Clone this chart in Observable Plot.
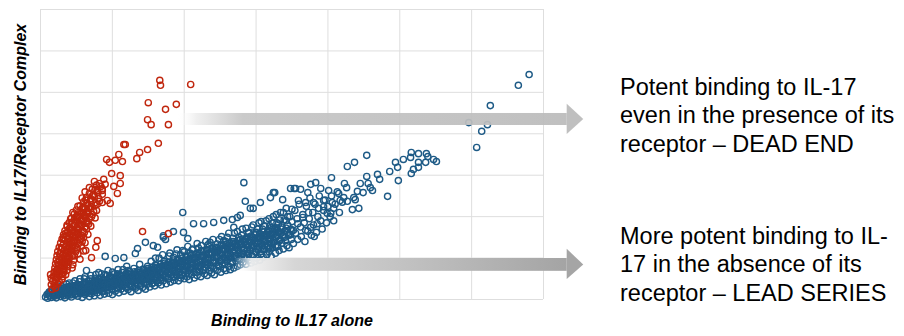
<!DOCTYPE html>
<html><head><meta charset="utf-8">
<script src="https://cdn.jsdelivr.net/npm/d3@7"></script>
<script src="https://cdn.jsdelivr.net/npm/@observablehq/plot@0.6"></script>
<style>
body{margin:0;background:#fff;}
#wrap{position:relative;width:904px;height:336px;overflow:hidden;font-family:"Liberation Sans",Arial,sans-serif;background:#fff;}
#wrap svg{position:absolute;left:0;top:0;}
.note{position:absolute;left:620px;font-size:23.5px;line-height:28.5px;color:#000;white-space:nowrap;font-family:"Liberation Sans",Arial,sans-serif;}
</style></head><body><div id="wrap"></div>
<script>
// ---- data (arbitrary units) ----
const gridTicks = [0,1,2,3,4,5,6,7];
const xLabel = "Binding to IL17 alone";
const yLabel = "Binding to IL17/Receptor Complex";
const notes = [
  ["Potent binding to IL-17", "even in the presence of its", "receptor \u2013 DEAD END"],
  ["More potent binding to IL-", "17 in the absence of its", "receptor \u2013 LEAD SERIES"]
];

const blueCore = [
[0.07,0.06],[0.09,0.12],[0.1,0.03],[0.12,0.18],[0.13,0.09],[0.15,0.05],[0.16,0.24],[0.17,0.14],[0.19,0.08],[0.2,0.2],[0.21,0.3],[0.22,0.04],[0.24,0.12],[0.25,0.26],[0.26,0.17],[0.28,0.07],[0.29,0.33],[0.3,0.22],[0.31,0.13],[0.33,0.28],[0.34,0.04],[0.35,0.18],[0.36,0.37],[0.38,0.1],[0.39,0.25],[0.4,0.31],[0.41,0.15],[0.43,0.06],[0.44,0.21],[0.45,0.4],[0.46,0.28],[0.48,0.12],[0.49,0.34],[0.5,0.19],
[0.52,0.08],[0.53,0.26],[0.54,0.43],[0.56,0.15],[0.57,0.31],[0.58,0.05],[0.59,0.22],[0.6,0.38],[0.61,0.5],[0.62,0.12],[0.63,0.27],[0.65,0.19],[0.66,0.34],[0.67,0.45],[0.68,0.07],[0.69,0.24],[0.7,0.58],[0.71,0.14],[0.72,0.31],[0.73,0.4],[0.74,0.2],[0.75,0.09],[0.76,0.5],[0.77,0.27],[0.78,0.36],[0.79,0.16],[0.8,0.44],[0.81,0.65],[0.82,0.23],[0.83,0.1],[0.84,0.33],[0.85,0.52],[0.86,0.19],[0.87,0.41],[0.88,0.28],[0.89,0.13],[0.9,0.6],[0.91,0.36],[0.92,0.22],[0.93,0.47],[0.94,0.7],[0.95,0.15],[0.96,0.3],[0.97,0.55],[0.98,0.4],[0.99,0.25],[1.0,0.12],
[1.01,0.45],[1.02,0.33],[1.03,0.62],[1.04,0.2],[1.05,0.5],[1.06,0.28],[1.07,0.39],[1.08,0.72],[1.09,0.16],[1.1,0.56],[1.11,0.44],[1.12,0.25],[1.13,0.34],[1.14,0.65],[1.15,0.5],[1.16,0.2],[1.17,0.41],[1.18,0.3],[1.19,0.58],[1.2,0.8],[1.21,0.47],[1.22,0.24],[1.23,0.36],[1.24,0.68],[1.25,0.53],[1.26,0.19],[1.27,0.43],[1.28,0.31],[1.29,0.6],[1.3,0.75],[1.31,0.49],[1.32,0.27],[1.33,0.38],[1.34,0.66],[1.35,0.55],[1.36,0.22],[1.37,0.45],[1.38,0.85],[1.39,0.33],[1.4,0.62],[1.41,0.51],[1.42,0.29],[1.43,0.72],[1.44,0.4],[1.45,0.58],[1.46,0.25],[1.47,0.48],[1.48,0.36],[1.49,0.8],[1.5,0.66],
[1.51,0.43],[1.52,0.3],[1.53,0.56],[1.54,0.92],[1.55,0.38],[1.56,0.7],[1.57,0.5],[1.58,0.62],[1.59,0.33],[1.6,0.84],[1.61,0.46],[1.62,0.75],[1.63,0.58],[1.64,0.4],[1.65,1.0],[1.66,0.66],[1.67,0.52],[1.68,0.35],[1.69,0.8],[1.7,0.6],[1.71,0.45],[1.72,0.92],[1.73,0.7],[1.74,0.55],[1.75,0.38],[1.76,0.85],[1.77,0.64],[1.78,0.5],[1.79,1.05],[1.8,0.76],[1.81,0.42],[1.82,0.6],[1.83,0.9],[1.84,0.7],[1.85,0.53],[1.86,0.46],[1.87,0.82],[1.88,0.64],[1.89,1.1],[1.9,0.57],[1.91,0.74],[1.92,0.45],[1.93,0.95],[1.94,0.66],[1.95,0.52],[1.96,0.84],[1.97,0.6],[1.98,1.18],[1.99,0.72],[2.0,0.5],
[2.01,0.9],[2.02,0.62],[2.03,0.8],[2.04,0.55],[2.05,1.05],[2.06,0.7],[2.07,0.48],[2.08,0.95],[2.09,0.78],[2.1,0.6],[2.11,1.2],[2.12,0.86],[2.13,0.66],[2.14,0.52],[2.15,1.0],[2.16,0.74],[2.17,0.9],[2.18,0.58],[2.19,1.12],[2.2,0.8],[2.21,0.68],[2.22,0.96],[2.23,0.55],[2.24,1.3],[2.25,0.85],[2.26,0.72],[2.27,1.05],[2.28,0.62],[2.29,0.92],[2.3,0.78],[2.31,1.2],[2.32,0.58],[2.33,0.88],[2.34,1.0],[2.35,0.7],[2.36,1.38],[2.37,0.82],[2.38,0.64],[2.39,1.1],[2.4,0.94],[2.41,0.75],[2.42,0.6],[2.43,1.25],[2.44,0.88],[2.45,1.02],[2.46,0.7],[2.47,1.15],[2.48,0.8],[2.49,1.45],[2.5,0.95],
[2.51,0.66],[2.52,1.1],[2.53,0.84],[2.54,1.3],[2.55,0.74],[2.56,1.0],[2.57,1.2],[2.58,0.7],[2.59,0.92],[2.6,1.5],[2.61,1.08],[2.62,0.8],[2.63,1.25],[2.64,0.72],[2.65,1.0],[2.66,1.4],[2.67,0.88],[2.68,1.15],[2.69,0.76],[2.7,1.6],[2.71,1.05],[2.72,0.93],[2.73,1.3],[2.74,0.8],[2.75,1.18],[2.76,1.5],[2.77,0.98],[2.78,0.84],[2.79,1.35],[2.8,1.1],[2.81,1.7],[2.82,0.9],[2.83,1.22],[2.84,1.02],[2.85,1.45],[2.86,0.85],[2.87,1.3],[2.88,1.12],[2.89,1.6],[2.9,0.95],[2.91,1.38],[2.92,1.2],[2.93,0.88],[2.94,1.75],[2.95,1.05],[2.96,1.5],[2.97,1.28],[2.98,0.92],[2.99,1.15],[3.0,1.62],
[3.01,1.0],[3.02,1.35],[3.03,1.2],[3.04,1.85],[3.05,0.95],[3.06,1.48],[3.07,1.1],[3.08,1.3],[3.09,1.7],[3.1,1.02],[3.11,1.55],[3.12,1.22],[3.13,1.4],[3.14,1.9],[3.15,1.08],[3.16,1.62],[3.17,1.3],[3.18,1.15],[3.19,1.78],[3.2,1.45],[3.21,1.05],[3.22,1.58],[3.23,1.25],[3.24,2.0],[3.25,1.38],[3.26,1.7],[3.27,1.12],[3.28,1.5],[3.29,1.85],[3.3,1.3],[3.31,1.62],[3.32,1.18],[3.33,1.45],[3.34,2.1],[3.35,1.75],[3.36,1.35],[3.37,1.55],[3.38,1.22],[3.39,1.92],[3.4,1.65],[3.41,1.42],[3.42,2.2],[3.43,1.3],[3.44,1.8],[3.45,1.55],[3.46,1.25],[3.47,2.0],[3.48,1.7],[3.49,1.45],[3.5,1.88],
[3.52,1.35],[3.54,2.15],[3.55,1.6],[3.57,1.95],[3.58,1.45],[3.6,2.3],[3.62,1.75],[3.63,1.52],[3.65,2.05],[3.67,1.85],[3.68,1.4],[3.7,2.25],[3.72,1.65],[3.74,1.95],[3.75,2.45],[3.77,1.55],[3.79,2.1],[3.8,1.8],[3.82,2.3],[3.84,1.62],[3.86,2.0],[3.88,2.5],[3.9,1.9],[3.92,1.7],[3.94,2.15],[3.96,2.4],[3.98,1.85],[4.0,2.25],[4.03,2.0],[4.05,2.5],[4.08,1.9],[4.1,2.3],[4.13,2.6],[4.16,2.1],[4.2,2.35]
];

const blueCenter = [
[0.32,0.2],[0.37,0.14],[0.42,0.26],[0.47,0.2],[0.51,0.3],[0.55,0.22],[0.58,0.32],[0.62,0.25],[0.64,0.36],[0.68,0.3],[0.71,0.38],[0.74,0.29],[0.77,0.42],[0.8,0.33],[0.83,0.44],[0.86,0.36],[0.89,0.47],[0.92,0.38],[0.95,0.5],[0.98,0.42],[1.01,0.53],[1.04,0.44],[1.07,0.55],[1.1,0.47],[1.13,0.58],[1.16,0.5],[1.19,0.62],[1.22,0.54],[1.25,0.64],[1.28,0.56],[1.31,0.67],[1.34,0.58],[1.37,0.7],[1.4,0.61],[1.43,0.73],[1.46,0.64],[1.49,0.75],[1.52,0.67],[1.55,0.78],[1.58,0.7],[1.61,0.82],[1.64,0.73],[1.67,0.85],[1.7,0.76],[1.73,0.88],[1.76,0.79],[1.79,0.9],[1.82,0.82],[1.85,0.93],[1.88,0.85],[1.91,0.97],[1.94,0.88],[1.97,1.0],[2.0,0.91],[2.03,1.03],[2.06,0.94],[2.09,1.06],[2.12,0.98],[2.15,1.1],[2.18,1.01],[2.21,1.13],[2.24,1.04],[2.27,1.16],[2.3,1.08],[2.33,1.2],[2.36,1.11],[2.39,1.23],[2.42,1.14],[2.45,1.26],[2.48,1.18],[2.51,1.3],[2.54,1.2],[2.57,1.33],[2.6,1.24],[2.63,1.36],[2.66,1.27],[2.69,1.4],[2.72,1.3],[2.75,1.43],[2.78,1.33],[2.81,1.46],[2.84,1.37],[2.87,1.5],[2.9,1.4],[2.93,1.53],[2.96,1.43],[2.99,1.56],[3.02,1.47],[3.05,1.6],[3.08,1.5],[3.11,1.63],[3.14,1.54],[3.17,1.67],[3.2,1.58],[3.23,1.7],[3.26,1.6],[3.29,1.73],[3.32,1.64],
[0.6,0.16],[0.7,0.2],[0.8,0.25],[0.9,0.28],[1.0,0.32],[1.1,0.36],[1.2,0.4],[1.3,0.44],[1.4,0.48],[1.5,0.52],[1.6,0.56],[1.7,0.6],[1.8,0.65],[1.9,0.68],[2.0,0.72],[2.1,0.76],[2.2,0.8],[2.3,0.85],[2.4,0.88],[2.5,0.92],[2.6,0.96],[2.7,1.0],[2.8,1.05],[2.9,1.1],[3.0,1.15],[3.1,1.2],[3.2,1.25],[3.3,1.28]
];

const blueFill = [
[0.11,0.14],[0.14,0.2],[0.18,0.11],[0.2,0.15],[0.23,0.22],[0.27,0.12],[0.28,0.27],[0.32,0.09],[0.34,0.24],[0.37,0.3],[0.4,0.2],[0.42,0.11],[0.44,0.33],[0.47,0.26],[0.5,0.14],[0.52,0.36],[0.55,0.3],[0.57,0.18],[0.6,0.27],[0.62,0.42],[0.64,0.2],[0.67,0.33],[0.69,0.15],[0.72,0.44],[0.74,0.36],[0.76,0.22],[0.79,0.3],[0.81,0.5],[0.84,0.26],[0.86,0.45],[0.88,0.2],[0.91,0.42],[0.93,0.3],[0.96,0.56],[0.98,0.35],[1.0,0.24],[1.03,0.48],[1.05,0.38],[1.08,0.28],[1.1,0.6],[1.12,0.42],[1.15,0.33],[1.18,0.52],[1.2,0.28],[1.22,0.62],[1.25,0.44],[1.27,0.35],[1.3,0.56],[1.32,0.32],[1.35,0.46],[1.37,0.64],[1.4,0.38],[1.42,0.55],[1.45,0.7],[1.47,0.42],[1.5,0.58],[1.52,0.48],[1.55,0.72],[1.57,0.4],[1.6,0.64],[1.62,0.52],[1.65,0.78],[1.67,0.46],[1.7,0.68],[1.72,0.55],[1.75,0.82],[1.77,0.5],[1.8,0.72],[1.82,0.6],[1.85,0.86],[1.87,0.55],[1.9,0.78],[1.92,0.64],[1.95,0.92],[1.97,0.58],[2.0,0.82],[2.02,0.7],[2.05,0.96],[2.07,0.62],[2.1,0.88],[2.12,0.74],[2.15,1.02],[2.17,0.66],[2.2,0.92],[2.22,0.78],[2.25,1.06],[2.27,0.7],[2.3,0.98],[2.32,0.84],[2.35,1.12],[2.37,0.76],[2.4,1.02],[2.42,0.9],[2.45,1.18],[2.47,0.82],[2.5,1.08],[2.52,0.96],[2.55,1.24],[2.57,0.86],[2.6,1.14],[2.62,1.0],[2.65,1.3],[2.67,0.92],[2.7,1.2],[2.72,1.06],[2.75,1.34],[2.77,0.96],[2.8,1.26],[2.82,1.12],[2.85,1.4],[2.87,1.02],[2.9,1.3],[2.92,1.18],[2.95,1.46],[2.97,1.08],[3.0,1.36],[3.02,1.24],[3.05,1.52],[3.07,1.16],[3.1,1.42],[3.12,1.3],[3.15,1.58],[3.17,1.22],[3.2,1.48],[3.22,1.36],[3.25,1.64],[3.27,1.28],[3.3,1.54],[3.33,1.42],[3.36,1.7],[3.4,1.5],[3.44,1.62],[3.48,1.56]
];

const blueFill2 = [
[0.21,0.1],[0.26,0.21],[0.31,0.16],[0.35,0.27],[0.39,0.19],[0.43,0.3],[0.46,0.16],[0.51,0.24],[0.54,0.34],[0.58,0.26],[0.61,0.19],[0.63,0.37],[0.66,0.27],[0.7,0.35],[0.73,0.24],[0.75,0.43],[0.78,0.32],[0.82,0.4],[0.85,0.3],[0.87,0.49],[0.9,0.37],[0.94,0.45],[0.97,0.34],[0.99,0.52],[1.02,0.41],[1.06,0.5],[1.09,0.38],[1.11,0.57],[1.14,0.45],[1.17,0.54],[1.21,0.42],[1.23,0.6],[1.26,0.49],[1.29,0.59],[1.33,0.47],[1.36,0.66],[1.38,0.54],[1.41,0.64],[1.44,0.52],[1.48,0.71],[1.51,0.6],[1.54,0.69],[1.56,0.58],[1.59,0.77],[1.63,0.65],[1.66,0.74],[1.68,0.62],[1.71,0.82],[1.74,0.7],[1.78,0.8],[1.81,0.67],[1.83,0.88],[1.86,0.76],[1.89,0.86],[1.93,0.72],[1.96,0.94],[1.98,0.8],[2.01,0.92],[2.04,0.78],[2.08,1.0],[2.11,0.85],[2.13,0.97],[2.16,0.84],[2.19,1.06],[2.23,0.9],[2.26,1.02],[2.28,0.88],[2.31,1.1],[2.34,0.96],[2.38,1.08],[2.41,0.94],[2.44,1.16],[2.46,1.01],[2.49,1.13],[2.53,1.0],[2.56,1.22],[2.59,1.06],[2.61,1.19],[2.64,1.06],[2.68,1.28],[2.71,1.12],[2.73,1.25],[2.76,1.12],[2.79,1.36],[2.83,1.18],[2.86,1.32],[2.88,1.2],[2.91,1.44],[2.94,1.26],[2.98,1.38],[3.01,1.28],[3.04,1.5],[3.06,1.34],[3.09,1.46],[3.13,1.34],[3.16,1.56],[3.19,1.4],[3.21,1.54],[3.24,1.44],[3.28,1.66],[3.31,1.48],[3.35,1.6],[3.38,1.52],[3.42,1.72],[3.46,1.58],[3.5,1.66],
[0.55,0.5],[0.62,0.55],[0.7,0.5],[0.77,0.6],[0.85,0.62],[0.92,0.58],[1.0,0.66],[1.07,0.62],[1.15,0.72],[1.22,0.7],[0.48,0.45],[0.4,0.4]
];

const blueUpper = [
[1.6,1.0],[1.7,1.08],[1.8,1.12],[1.9,1.2],[2.0,1.15],[2.05,1.28],[2.12,1.22],[2.18,1.35],[2.24,1.18],[2.3,1.4],[2.35,1.28],[2.4,1.45],[2.46,1.34],[2.52,1.52],[2.58,1.4],[2.62,1.6],[2.68,1.48],[2.74,1.64],[2.8,1.55],[2.86,1.72],[2.9,1.62],[2.96,1.8],[3.02,1.7],[3.07,1.88],[3.12,1.78],[3.18,1.95],[3.23,1.84],[3.28,2.05],[3.33,1.92],[3.38,2.1],[3.44,2.0],[3.5,2.18],
[1.85,1.02],[1.95,1.08],[2.08,1.12],[2.2,1.24],[2.33,1.32],[2.44,1.24],[2.55,1.42],[2.66,1.36],[2.78,1.45],[2.88,1.5],[2.99,1.58],[3.1,1.64],[3.21,1.74],[3.31,1.82],[3.42,1.9]
];

const blueSpread = [
[5.16,3.55],[5.26,3.52],[5.37,3.52],[5.39,3.45],[5.47,3.38],[5.51,3.33],[5.36,3.31],[5.26,3.31],[5.15,3.43],[5.05,3.38],[4.94,3.31],[4.97,3.19],[4.86,3.09],[5.19,3.14],[5.16,3.04],[5.26,3.19],[4.98,2.87],[4.83,2.49],[4.69,3.02],[4.72,2.90],[4.54,3.48],[4.37,3.31],[4.27,3.21],[4.54,2.97],[4.56,2.80],[4.62,2.63],[4.49,2.58],[4.41,2.61],[4.36,2.46],[4.43,2.20],[4.34,2.17],[4.26,2.70],[4.23,2.80],[4.05,2.94],[4.01,2.63],[3.90,2.68],[3.83,2.82],[3.76,2.78],[3.72,2.58],[3.62,2.66],[3.53,2.68],[3.59,2.39],[3.69,2.34],[3.80,2.34],[3.94,2.39],[4.06,2.34],[4.17,2.39],[4.27,2.37],[4.38,2.41],[4.08,2.20],[3.99,2.08],[4.04,2.08],[3.85,1.83],[3.69,1.67],[3.81,1.52],[3.76,1.74],[3.58,1.83],[3.52,1.67],[3.65,1.98],[3.73,2.10],[3.87,2.20],[3.94,2.24],[4.45,2.80],[4.59,2.70],[4.15,2.56],[4.22,2.46]
];

const blueOutliers = [
[0.64,0.7],[0.9,1.04],[1.04,0.99],[1.16,1.01],[1.32,1.11],[1.46,1.38],[1.35,1.23],[1.63,1.26],[1.71,1.5],[1.74,1.45],[1.57,1.3],[1.85,1.64],[1.71,1.54],[1.99,1.62],[2.05,1.47],[1.98,2.1],[2.13,1.83],[2.27,1.83],[2.41,1.86],[2.55,1.91],[2.67,1.93],[2.74,1.98],[2.78,2.03],[2.69,1.74],[2.85,2.37],[2.96,2.2],[2.92,2.2],[3.06,2.34],[3.2,2.46],[3.26,2.58],[3.37,2.41],[3.48,2.68],[3.55,2.68],[3.24,2.58],[2.83,2.82],
[5.96,4.27],[6.07,3.67],[6.14,4.06],[6.22,4.22],[6.26,4.68],[6.65,5.17],[6.80,5.43]
];

const redCore = [
[0.16,0.25],[0.21,0.28],[0.15,0.36],[0.19,0.33],[0.24,0.38],[0.17,0.44],[0.21,0.47],[0.26,0.43],[0.3,0.49],[0.18,0.56],[0.22,0.53],[0.26,0.58],[0.31,0.55],[0.35,0.6],[0.19,0.66],[0.23,0.63],[0.27,0.68],[0.32,0.65],[0.37,0.7],[0.2,0.76],[0.24,0.73],[0.28,0.78],[0.33,0.74],[0.38,0.79],[0.44,0.76],[0.21,0.86],[0.25,0.83],[0.29,0.88],[0.34,0.85],[0.39,0.9],[0.45,0.84],[0.22,0.96],[0.26,0.93],[0.3,0.98],[0.35,0.94],[0.4,0.99],[0.46,0.95],[0.55,0.97],[0.23,1.06],[0.27,1.03],[0.31,1.08],[0.36,1.04],[0.41,1.09],[0.47,1.05],[0.52,1.1],[0.24,1.16],[0.28,1.13],[0.33,1.18],[0.38,1.14],[0.43,1.19],[0.49,1.15],[0.6,1.17],[0.26,1.26],[0.3,1.23],[0.35,1.28],[0.4,1.24],[0.45,1.29],[0.51,1.25],[0.57,1.3],[0.28,1.36],[0.32,1.33],[0.37,1.38],[0.42,1.34],[0.47,1.39],[0.53,1.35],[0.62,1.37],[0.3,1.46],[0.34,1.43],[0.39,1.48],[0.44,1.44],[0.49,1.49],[0.55,1.45],[0.6,1.5],[0.32,1.56],[0.36,1.53],[0.41,1.58],[0.46,1.54],[0.51,1.59],[0.57,1.55],[0.66,1.57],[0.34,1.66],[0.38,1.63],[0.43,1.68],[0.48,1.64],[0.53,1.69],[0.59,1.65],[0.64,1.7],[0.37,1.76],[0.41,1.73],[0.46,1.78],[0.51,1.74],[0.56,1.79],[0.62,1.75],[0.7,1.77],[0.4,1.86],[0.44,1.83],[0.49,1.88],[0.54,1.84],[0.59,1.89],[0.65,1.85],[0.43,1.96],[0.47,1.93],[0.52,1.98],[0.57,1.94],[0.62,1.99],[0.68,1.95],[0.76,1.97],[0.47,2.06],[0.51,2.03],[0.56,2.08],[0.61,2.04],[0.66,2.09],[0.72,2.05],[0.5,2.16],[0.55,2.13],[0.6,2.18],[0.65,2.14],[0.7,2.19],[0.78,2.15],[0.55,2.26],[0.6,2.23],[0.65,2.28],[0.7,2.24],[0.76,2.27],[0.6,2.36],[0.65,2.33],[0.7,2.38],[0.76,2.34],[0.82,2.37],[0.64,2.46],[0.7,2.43],[0.75,2.48],[0.81,2.44],[0.68,2.56],[0.74,2.53],[0.8,2.58],[0.86,2.54],[0.72,2.66],[0.79,2.63],[0.86,2.67],[0.78,2.76],[0.84,2.73],[0.9,2.78],
[0.25,0.7],[0.3,0.9],[0.35,1.1],[0.4,1.3],[0.45,1.5],[0.5,1.7],[0.55,1.9],[0.6,2.1],[0.29,0.6],[0.33,0.8],[0.38,1.0],[0.42,1.2],[0.47,1.4],[0.52,1.6],[0.57,1.8],[0.63,2.0]
];

const redFill = [
[0.2,0.4],[0.23,0.5],[0.25,0.6],[0.27,0.75],[0.3,0.8],[0.31,0.7],[0.33,0.95],[0.36,0.9],[0.37,1.2],[0.39,1.15],[0.41,1.4],[0.43,1.3],[0.44,1.6],[0.46,1.65],[0.48,1.8],[0.5,1.55],[0.53,2.0],[0.54,1.75],[0.58,2.2],[0.59,1.95],[0.63,2.4],[0.67,2.2],[0.72,2.5],[0.2,0.55],[0.22,0.7],[0.24,0.9],[0.27,1.1],[0.29,1.25],[0.32,1.45],[0.35,1.6],[0.37,1.8],[0.4,1.7],[0.42,1.95],[0.45,2.1],[0.48,1.98],[0.52,2.25],[0.58,2.45],[0.62,2.6],[0.36,1.0],[0.39,1.25],[0.44,1.05],[0.48,1.3],[0.5,1.2],[0.54,1.5],[0.58,1.4],[0.61,1.62],[0.67,1.82],[0.64,1.9],[0.71,2.0],[0.74,2.12],[0.79,2.3],[0.68,2.7],[0.75,2.85],[0.88,2.9]
];

const redOutliers = [
[1.66,5.29],[1.67,5.17],[2.09,5.19],[1.50,4.75],[1.89,4.71],[1.74,4.59],[1.49,4.34],[1.54,4.22],[1.78,4.22],[1.16,3.74],[1.18,3.74],[1.64,3.77],[1.49,3.62],[1.38,3.55],[1.09,3.50],[1.34,3.40],[0.92,3.38],[0.96,3.31],[1.04,3.36],[1.14,3.33],[0.99,3.04],[1.11,2.99],[1.11,2.80],[1.02,2.73],[1.07,2.56],[0.97,2.32],[0.86,2.34],[0.93,2.39],[0.82,2.80],[0.77,2.66],[0.86,2.63],[1.42,1.64],[1.78,1.59],[0.32,1.50],[0.71,1.01],[0.57,1.47],[0.63,1.18],[0.77,1.26],[0.79,1.42],[0.15,0.51],[0.14,0.6]
];

// arrows (data units of the same axes)
const shaftTop = [{x1:1.9, x2:7.33, y1:4.20, y2:4.49}];
const headTop = [{x:7.33, y1:3.98, y2:4.71},{x:7.56, y1:4.345, y2:4.345}];
const shaftBottom = [{x1:2.71, x2:7.33, y1:0.68, y2:0.99}];
const headBottom = [{x:7.33, y1:0.48, y2:1.21},{x:7.56, y1:0.835, y2:0.835}];

// ---- build ----
const toObj = ([x, y]) => ({x, y});
const blue = [...blueCore, ...blueCenter, ...blueFill, ...blueFill2, ...blueUpper, ...blueSpread, ...blueOutliers].map(toObj);
const red = [...redCore, ...redFill, ...redOutliers].map(toObj);

const defs = () => {
  const d = d3.create("svg:defs");
  const g1 = d.append("linearGradient").attr("id", "gTop").attr("x1", 0).attr("x2", 1).attr("y1", 0).attr("y2", 0);
  g1.append("stop").attr("offset", "0%").attr("stop-color", "#ffffff").attr("stop-opacity", 0);
  g1.append("stop").attr("offset", "5%").attr("stop-color", "#eeeeee").attr("stop-opacity", 0.9);
  g1.append("stop").attr("offset", "17%").attr("stop-color", "#c6c6c6").attr("stop-opacity", 0.93);
  g1.append("stop").attr("offset", "100%").attr("stop-color", "#bbbbbb").attr("stop-opacity", 0.93);
  const g2 = d.append("linearGradient").attr("id", "gBottom").attr("x1", 0).attr("x2", 1).attr("y1", 0).attr("y2", 0);
  g2.append("stop").attr("offset", "0%").attr("stop-color", "#ffffff").attr("stop-opacity", 0);
  g2.append("stop").attr("offset", "5%").attr("stop-color", "#f0f0f0").attr("stop-opacity", 0.95);
  g2.append("stop").attr("offset", "18%").attr("stop-color", "#d6d6d6").attr("stop-opacity", 1);
  g2.append("stop").attr("offset", "100%").attr("stop-color", "#a4a4a4").attr("stop-opacity", 1);
  return d.node();
};

const font = "'Liberation Sans', Arial, sans-serif";
const chart = Plot.plot({
  width: 904,
  height: 336,
  marginLeft: 40,
  marginTop: 9,
  marginRight: 361,
  marginBottom: 37,
  x: {domain: [0, 7], axis: null},
  y: {domain: [0, 7], axis: null},
  style: {background: "transparent", overflow: "visible"},
  marks: [
    defs,
    Plot.gridX(gridTicks, {stroke: "#dedede", strokeOpacity: 1, strokeWidth: 1}),
    Plot.gridY(gridTicks, {stroke: "#dedede", strokeOpacity: 1, strokeWidth: 1}),
    Plot.dot(blue, {x: "x", y: "y", r: 3.1, stroke: "#1d5a86", strokeWidth: 1.4, fill: "none"}),
    Plot.dot(red, {x: "x", y: "y", r: 3.1, stroke: "#c0260d", strokeWidth: 1.4, fill: "none"}),
    Plot.rect(shaftTop, {x1: "x1", x2: "x2", y1: "y1", y2: "y2", fill: "url(#gTop)"}),
    Plot.areaY(headTop, {x: "x", y1: "y1", y2: "y2", fill: "#bcbcbc", fillOpacity: 0.95}),
    Plot.rect(shaftBottom, {x1: "x1", x2: "x2", y1: "y1", y2: "y2", fill: "url(#gBottom)"}),
    Plot.areaY(headBottom, {x: "x", y1: "y1", y2: "y2", fill: "#a5a5a5"}),
    Plot.text([xLabel], {text: d => d, frameAnchor: "bottom", dy: 21.5, textAnchor: "middle", lineAnchor: "middle", fontSize: 16, fontWeight: "bold", fontStyle: "italic", fontFamily: font, fill: "#000"}),
    Plot.text([yLabel], {text: d => d, frameAnchor: "left", dx: -20, rotate: -90, textAnchor: "middle", lineAnchor: "middle", fontSize: 16, fontWeight: "bold", fontStyle: "italic", fontFamily: font, fill: "#000"})
  ]
});

const wrap = document.getElementById("wrap");
wrap.appendChild(chart);
const tops = [72.6, 221.6];
notes.forEach((lines, i) => {
  const div = document.createElement("div");
  div.className = "note";
  div.style.top = tops[i] + "px";
  div.innerHTML = lines.join("<br>");
  wrap.appendChild(div);
});
</script>
</body></html>
